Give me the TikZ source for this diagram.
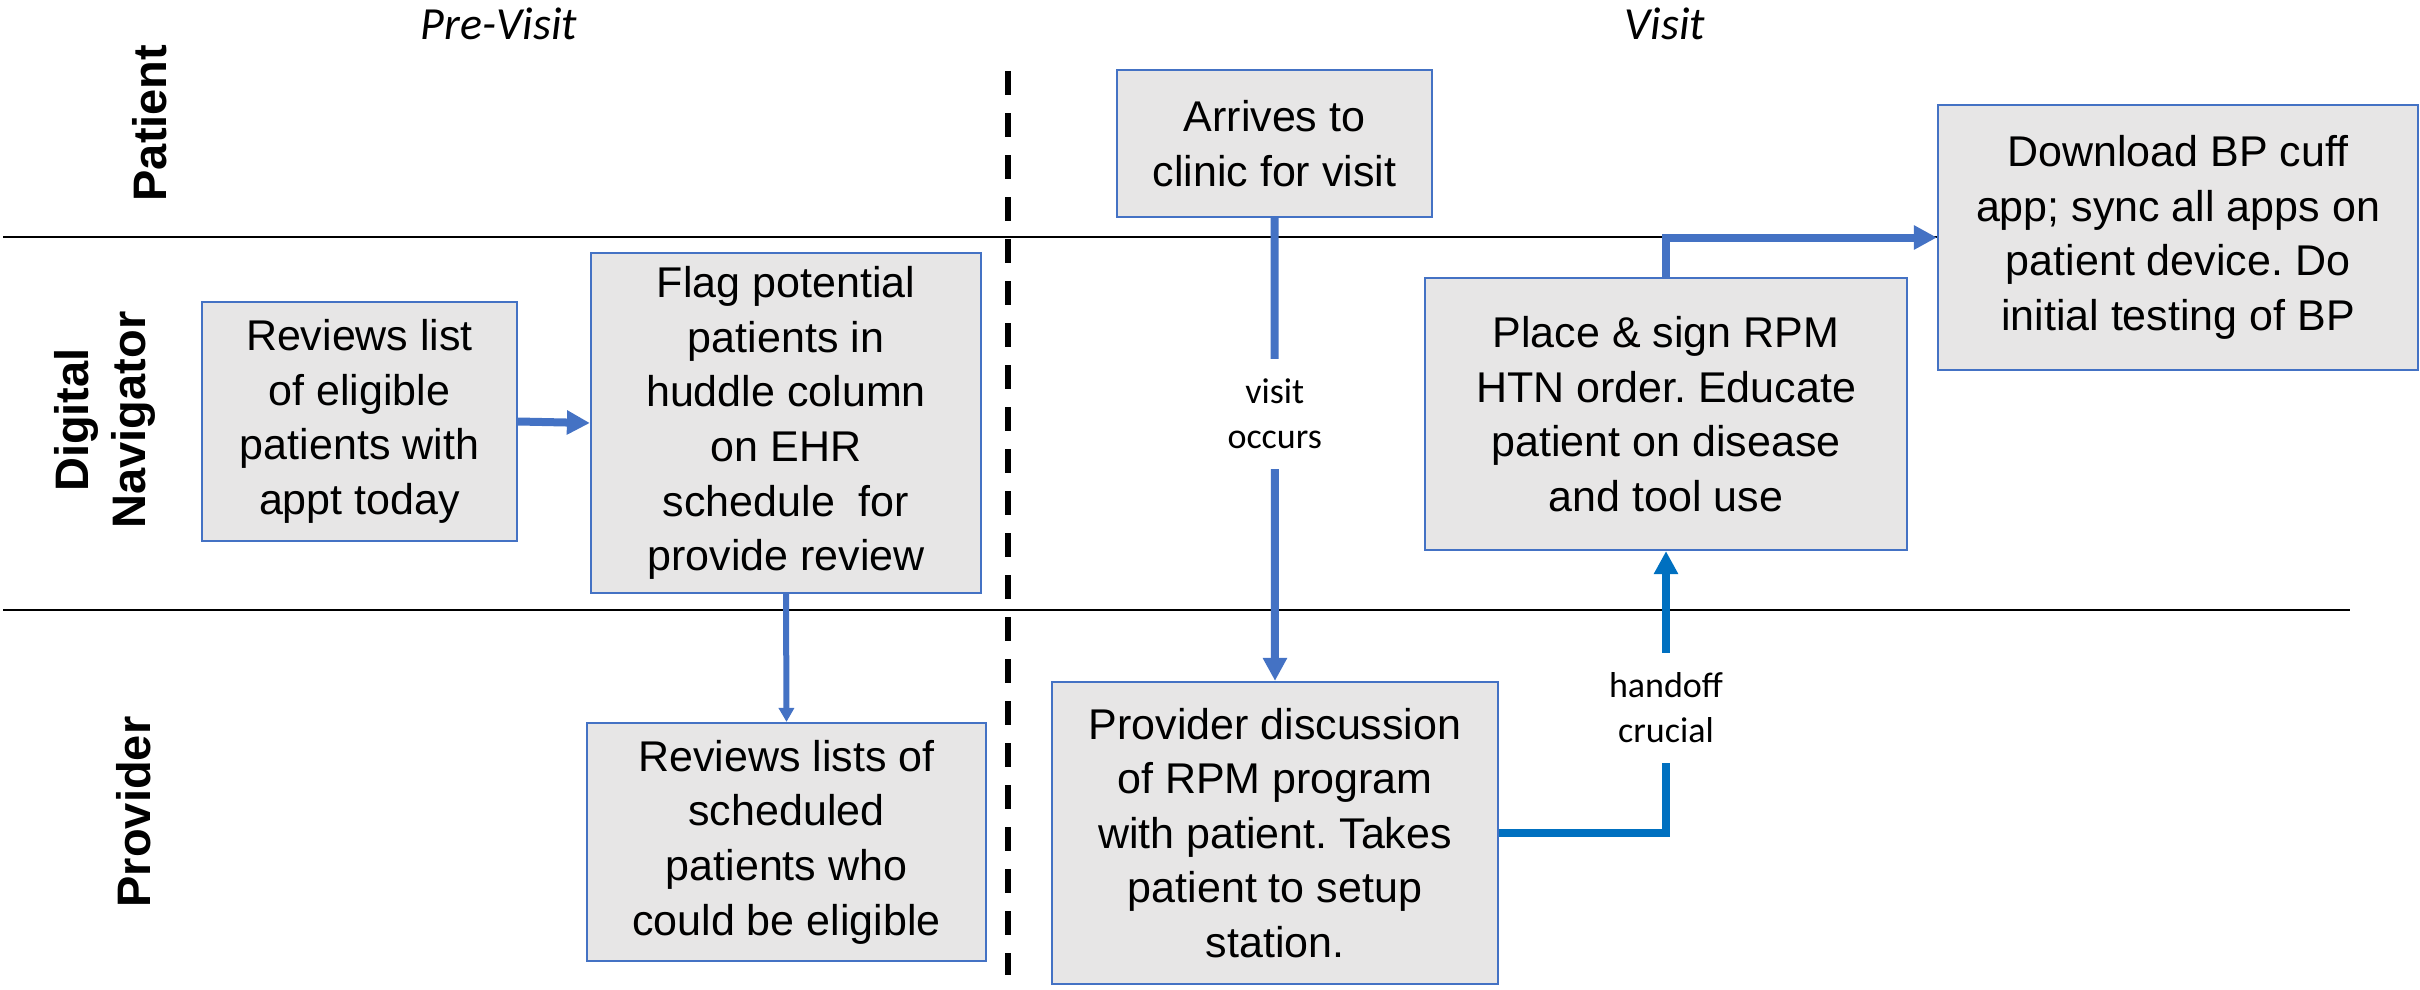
\documentclass[tikz,border=0pt]{standalone}
\usepackage{fontspec}
\setmainfont{Liberation Sans}
\newfontfamily\calib{Carlito}
\usetikzlibrary{arrows.meta}
\definecolor{boxblue}{HTML}{4472C4}
\definecolor{boxfill}{HTML}{E7E6E6}
\definecolor{handblue}{HTML}{0070C0}
\frenchspacing
\begin{document}
\begin{tikzpicture}[x=1pt,y=-1pt,
  stepbox/.style={draw=boxblue,line width=2.2pt,fill=boxfill,inner sep=0pt,align=center,
    font=\fontsize{43}{54.6}\selectfont},
  lane/.style={rotate=90,align=center,font=\bfseries\fontsize{47}{57}\selectfont},
  phase/.style={font=\calib\itshape\fontsize{46}{50}\selectfont},
  lbl/.style={fill=white,align=center,inner sep=2pt,minimum height=110pt,
    font=\calib\fontsize{36}{45}\selectfont},
  flow/.style={draw=boxblue,line width=8pt,-{Triangle[length=23pt,width=23pt]}},
  flowsmall/.style={draw=boxblue,line width=6pt,-{Triangle[length=14pt,width=15pt]}},
  lanesep/.style={draw=black,line width=2.5pt}]
\useasboundingbox (0,0) rectangle (2420,990);
% lane separators
\coordinate (l1a) at (3,237);
\coordinate (l1b) at (2417,237);
\coordinate (l2a) at (3,610);
\coordinate (l2b) at (2350,610);
\draw[lanesep] (l1a) -- (l1b);
\draw[lanesep] (l2a) -- (l2b);
% phase divider
\coordinate (dv1) at (1008,71);
\coordinate (dv2) at (1008,975);
\draw[line width=6pt,dash pattern=on 24pt off 18pt] (dv1) -- (dv2);
% phase titles
\node[phase] (pre) at (499,24) {Pre-Visit};
\node[phase] (vis) at (1665,24) {Visit};
% lane titles
\node[lane] (lpat) at (150,123) {Patient};
\node[lane] (lnav) at (105,420) {Digital\\Navigator};
\node[lane] (lpro) at (134,812) {Provider};
% boxes
\node[stepbox,minimum width=315pt,minimum height=239pt] (b1) at (359.5,421.5)
  {Reviews list\\of eligible\\patients with\\appt today};
\node[stepbox,minimum width=390pt,minimum height=340pt] (b2) at (786,423)
  {Flag potential\\patients in\\huddle column\\on EHR\\schedule\ \ for\\provide review};
\node[stepbox,minimum width=399pt,minimum height=238pt] (b3) at (786.5,842)
  {Reviews lists of\\scheduled\\patients who\\could be eligible};
\node[stepbox,minimum width=315pt,minimum height=147pt] (b4) at (1274.5,143.5)
  {Arrives to\\clinic for visit};
\node[stepbox,minimum width=482pt,minimum height=272pt] (b5) at (1666,414)
  {Place \& sign RPM\\HTN order. Educate\\patient on disease\\and tool use};
\node[stepbox,minimum width=480pt,minimum height=265pt] (b6) at (2178,237.5)
  {Download BP cuff\\app; sync all apps on\\patient device. Do\\initial testing of BP};
\node[stepbox,minimum width=446pt,minimum height=302pt] (b7) at (1275,833)
  {Provider discussion\\of RPM program\\with patient. Takes\\patient to setup\\station.};
% connectors
\draw[flow] (b1.east) -- (b2.west);
\draw[flowsmall] (b2.south) -- (b3.north);
\draw[flow] (b4.south) -- node[lbl,pos=0.423] (lvis) {visit\\occurs} (b7.north);
\draw[flow,draw=handblue,-{Triangle[length=23pt,width=23pt,fill=handblue]}]
  (b7.east) -| node[lbl,pos=0.7225] (lhand) {handoff\\crucial} (b5.south);
\draw[flow] (b5.north) |- (b6.west);
\end{tikzpicture}
\end{document}
